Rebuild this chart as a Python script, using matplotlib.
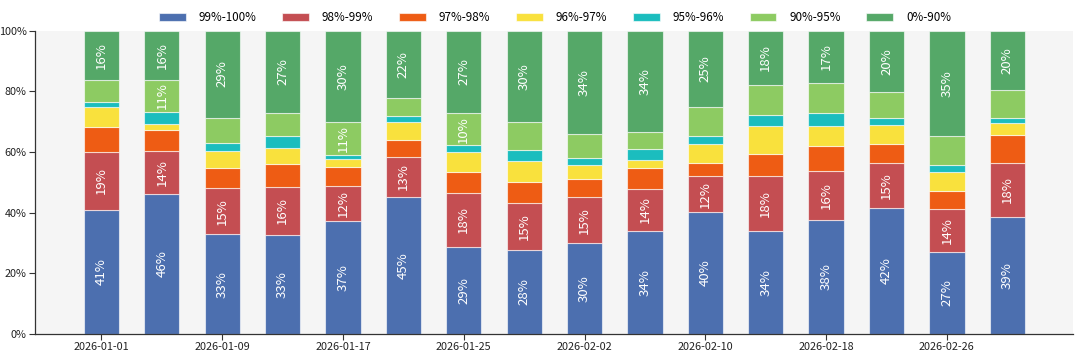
import matplotlib
matplotlib.use("Agg")
import matplotlib.pyplot as plt
import matplotlib.dates as mdates
import numpy as np
import pandas as pd

plt.rcParams['font.family'] = ['Noto Sans CJK SC', 'DejaVu Sans']

dates = ["2026-01-01", "2026-01-05", "2026-01-09", "2026-01-13", "2026-01-17", "2026-01-21",
         "2026-01-25", "2026-01-29", "2026-02-02", "2026-02-06", "2026-02-10", "2026-02-14",
         "2026-02-18", "2026-02-22", "2026-02-26", "2026-03-02"]

categories = ["99%-100%", "98%-99%", "97%-98%", "96%-97%", "95%-96%", "90%-95%", "0%-90%"]

s_99_100 = [41.0, 46.1, 32.9, 32.6, 37.1, 45.1, 28.6, 27.7, 29.9, 34.1, 40.2, 33.9, 37.6, 41.6, 27.1, 38.7]
s_98_99  = [19.0, 14.1, 15.1, 15.9, 11.7, 13.3, 18.0, 15.4, 15.2, 13.6, 11.7, 18.3, 16.1, 14.7, 14.2, 17.6]
s_97_98  = [8.3, 6.9, 6.8, 7.4, 6.1, 5.4, 6.9, 6.9, 5.9, 6.9, 4.6, 7.2, 8.3, 6.4, 5.8, 9.2]
s_96_97  = [6.6, 2.1, 5.6, 5.3, 2.7, 5.9, 6.6, 7.0, 4.6, 2.8, 6.1, 9.0, 6.5, 6.1, 6.4, 4.0]
s_95_96  = [1.7, 3.8, 2.5, 3.9, 1.3, 2.2, 2.2, 3.6, 2.3, 3.5, 2.7, 3.7, 4.3, 2.3, 2.1, 1.6]
s_90_95  = [7.2, 10.8, 8.4, 7.7, 11.0, 5.9, 10.4, 9.1, 8.0, 5.5, 9.4, 9.8, 9.9, 8.6, 9.7, 9.2]
s_0_90   = [16.2, 16.2, 28.7, 27.2, 30.1, 22.2, 27.3, 30.3, 34.1, 33.6, 25.3, 18.1, 17.3, 20.3, 34.7, 19.7]

tick_dates = ["2026-01-01", "2026-01-09", "2026-01-17", "2026-01-25",
              "2026-02-02", "2026-02-10", "2026-02-18", "2026-02-26"]
y_ticks = [0, 20, 40, 60, 80, 100]
y_tick_labels = ["0%", "20%", "40%", "60%", "80%", "100%"]

colors = ["#4C6FAF", "#C44E52", "#EE5C14", "#F9E13D", "#1BBDBE", "#8DCB62", "#55A868"]

series = [s_99_100, s_98_99, s_97_98, s_96_97, s_95_96, s_90_95, s_0_90]

fig = plt.figure(figsize=(10.8, 3.58), dpi=100)
ax = fig.add_axes([0.0324, 0.067, 0.9611, 0.8478])
ax.set_facecolor("#F5F5F5")

x = mdates.date2num(pd.to_datetime(dates))
width = 2.34
bottom = np.zeros(len(dates))
handles = []
for name, vals, col in zip(categories, series, colors):
    vals = np.array(vals)
    bars = ax.bar(x, vals, width=width, bottom=bottom, color=col,
                  edgecolor=(1, 1, 1, 0.6), linewidth=0.8, label=name, zorder=2)
    handles.append(bars)
    for xi, b, v in zip(x, bottom, vals):
        if v >= 10:
            ax.text(xi, b + v / 2, f"{v:.0f}%", rotation=90, ha="center", va="center",
                    color="white", fontsize=9.5, zorder=3)
    bottom += vals

ax.set_ylim(0, 100)
ax.set_yticks(y_ticks)
ax.set_yticklabels(y_tick_labels)
ax.set_xlim(x[0] - 4.4, x[-1] + 4.35)
tx = mdates.date2num(pd.to_datetime(tick_dates))
ax.set_xticks(tx)
ax.set_xticklabels(tick_dates)
ax.tick_params(axis="both", labelsize=7.8, length=4, width=0.8, color="#333333", labelcolor="#222222", pad=2)

for s in ["top", "right"]:
    ax.spines[s].set_visible(False)
for s in ["left", "bottom"]:
    ax.spines[s].set_color("#333333")
    ax.spines[s].set_linewidth(0.9)

fig.legend(handles=handles, labels=categories, loc="center", bbox_to_anchor=(0.514, 0.951),
           ncol=7, frameon=False, fontsize=8.4, handlelength=2.3, handleheight=0.8,
           handletextpad=1.1, columnspacing=2.2)

fig.savefig("out.png", dpi=100, facecolor="white")
